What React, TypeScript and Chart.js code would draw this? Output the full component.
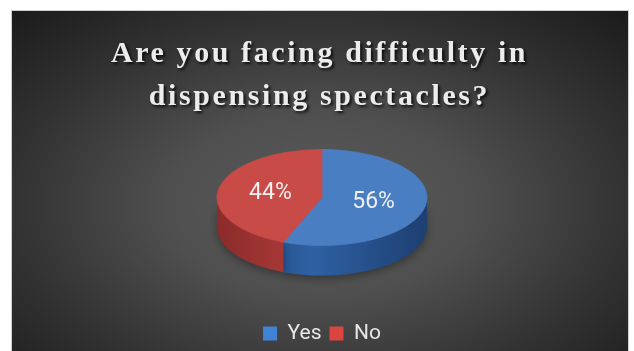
import { useEffect, useRef } from "react";
import { Chart, ArcElement, PieController, Legend } from "chart.js";

Chart.register(ArcElement, PieController, Legend);

// Survey question and answers
const titleLines = ["Are you facing difficulty in", "dispensing spectacles?"];
const answers = ["Yes", "No"];
const shares = [56, 44];

// Slice colours: top face, side wall (light / dark), legend swatch
const topColors = ["#4a7ec2", "#c94b47"];
const sideLight = ["#2f61a3", "#b23e3b"];
const sideDark = ["#1d3f72", "#8a2b2a"];
const legendColors = ["#3f82d6", "#dc4440"];

const W = 634;
const H = 351;
const PANEL_X = 12;
const PANEL_Y = 11;
const PANEL_W = 616;
const PIE_RADIUS = 105;
const TILT = 48 / 105;
const DEPTH = 30;

const backgroundAndTitle = {
  id: "backgroundAndTitle",
  beforeDraw(chart: any) {
    const ctx: CanvasRenderingContext2D = chart.ctx;
    ctx.save();
    ctx.fillStyle = "#ffffff";
    ctx.fillRect(0, 0, W, H);
    ctx.strokeStyle = "#cfcfcf";
    ctx.lineWidth = 1;
    ctx.strokeRect(PANEL_X - 0.5, PANEL_Y - 0.5, PANEL_W + 1, H);

    // elliptical radial shading of the panel
    const gcx = PANEL_X + PANEL_W / 2;
    const gcy = 205;
    const sy = 0.6;
    ctx.save();
    ctx.translate(gcx, gcy);
    ctx.scale(1, sy);
    const g = ctx.createRadialGradient(0, 0, 0, 0, 0, 440);
    g.addColorStop(0, "#5b5b5b");
    g.addColorStop(0.35, "#4f4f4f");
    g.addColorStop(0.7, "#323232");
    g.addColorStop(1, "#1c1c1c");
    ctx.fillStyle = g;
    ctx.fillRect(PANEL_X - gcx, (PANEL_Y - gcy) / sy, PANEL_W, (H - PANEL_Y) / sy + 20);
    ctx.restore();

    // title
    ctx.font = "bold 30px 'Liberation Serif', 'Times New Roman', serif";
    (ctx as any).letterSpacing = "2.6px";
    ctx.textAlign = "center";
    ctx.textBaseline = "alphabetic";
    ctx.fillStyle = "#ececec";
    ctx.shadowColor = "rgba(0,0,0,0.8)";
    ctx.shadowOffsetX = 2;
    ctx.shadowOffsetY = 2;
    ctx.shadowBlur = 3;
    titleLines.forEach((line, i) => {
      ctx.fillText(line, 319.5, 62 + i * 43);
    });
    ctx.restore();
  },
};

function frontRanges(s: number, e: number): [number, number][] {
  const out: [number, number][] = [];
  for (let k = -1; k <= 1; k++) {
    const a = k * 2 * Math.PI;
    const b = a + Math.PI;
    const lo = Math.max(s, a);
    const hi = Math.min(e, b);
    if (hi > lo) out.push([lo, hi]);
  }
  return out;
}

const pie3d = {
  id: "pie3d",
  beforeDatasetsDraw(chart: any) {
    const ctx: CanvasRenderingContext2D = chart.ctx;
    const arcs = chart.getDatasetMeta(0).data;
    if (!arcs.length) return;
    const cx = arcs[0].x;
    const cy = arcs[0].y;
    const r = arcs[0].outerRadius;
    const ry = r * TILT;

    // side walls of the visible front half
    ctx.save();
    arcs.forEach((arc: any, i: number) => {
      frontRanges(arc.startAngle, arc.endAngle).forEach(([a0, a1]) => {
        const g = ctx.createLinearGradient(cx - r, 0, cx + r, 0);
        g.addColorStop(0, sideDark[i]);
        g.addColorStop(0.45, sideLight[i]);
        g.addColorStop(1, sideDark[i]);
        ctx.beginPath();
        ctx.ellipse(cx, cy, r, ry, 0, a0, a1, false);
        ctx.lineTo(cx + r * Math.cos(a1), cy + DEPTH + ry * Math.sin(a1));
        ctx.ellipse(cx, cy + DEPTH, r, ry, 0, a1, a0, true);
        ctx.closePath();
        ctx.fillStyle = g;
        ctx.shadowColor = "rgba(0,0,0,0.35)";
        ctx.shadowBlur = 8;
        ctx.shadowOffsetY = 3;
        ctx.fill();
      });
    });
    ctx.restore();

    // flatten the top face into an ellipse
    ctx.save();
    ctx.translate(cx, cy);
    ctx.scale(1, TILT);
    ctx.translate(-cx, -cy);
  },
  afterDatasetsDraw(chart: any) {
    const ctx: CanvasRenderingContext2D = chart.ctx;
    ctx.restore();
    const meta = chart.getDatasetMeta(0);
    const arcs = meta.data;
    if (!arcs.length) return;
    const values: number[] = chart.data.datasets[0].data;
    const total = values.reduce((a, b) => a + b, 0);
    ctx.save();
    ctx.font = "23px Roboto, 'Liberation Sans', sans-serif";
    ctx.fillStyle = "#f0f0f0";
    ctx.textAlign = "center";
    ctx.textBaseline = "middle";
    arcs.forEach((arc: any, i: number) => {
      const p = arc.tooltipPosition();
      const y = arc.y + (p.y - arc.y) * TILT;
      ctx.fillText(Math.round((values[i] / total) * 100) + "%", p.x, y);
    });
    ctx.restore();
  },
};

export default function App() {
  const ref = useRef<HTMLCanvasElement | null>(null);

  useEffect(() => {
    if (!ref.current) return;
    const chart = new Chart(ref.current, {
      type: "pie",
      data: {
        labels: answers,
        datasets: [
          {
            data: shares,
            backgroundColor: topColors,
            borderColor: topColors,
            borderWidth: 1,
            radius: PIE_RADIUS,
            clip: false,
          } as any,
        ],
      },
      options: {
        responsive: false,
        animation: false,
        events: [],
        layout: { padding: { top: 80, bottom: -3, left: 10, right: 0 } },
        plugins: {
          legend: {
            position: "bottom",
            labels: {
              boxWidth: 14,
              boxHeight: 14,
              padding: 8,
              color: "#e6e6e6",
              font: { family: "Roboto, 'Liberation Sans', sans-serif", size: 21 },
              generateLabels: () =>
                answers.map((text, i) => ({
                  text,
                  fillStyle: legendColors[i],
                  strokeStyle: legendColors[i],
                  lineWidth: 0,
                  hidden: false,
                  index: i,
                  fontColor: "#e6e6e6",
                })),
            },
          },
        },
      },
      plugins: [backgroundAndTitle, pie3d],
    });
    return () => chart.destroy();
  }, []);

  return (
    <div style={{ position: "fixed", left: 0, top: 0, width: W, height: H }}>
      <canvas ref={ref} width={W} height={H} style={{ display: "block" }} />
    </div>
  );
}
